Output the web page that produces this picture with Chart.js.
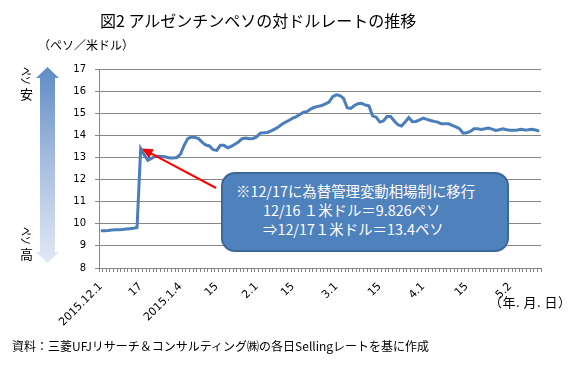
<!DOCTYPE html>
<html lang="ja">
<head>
<meta charset="utf-8">
<script src="https://cdn.jsdelivr.net/npm/chart.js@4"></script>
<style>
  html, body { margin: 0; padding: 0; background: #fff; }
  #wrap { position: relative; width: 571px; height: 369px; overflow: hidden;
          font-family: "Noto Sans CJK JP", sans-serif; color: #000; }
  #wrap canvas { position: absolute; left: 0; top: 0; }
  .txt { position: absolute; white-space: nowrap; line-height: 1; }
  .rot { position: absolute; white-space: nowrap; line-height: 1; font-size: 12px;
         transform-origin: 0 0; transform: rotate(90deg) scale(0.75, 1); }
  #note { position: absolute; left: 221px; top: 172px; width: 288px; height: 80px;
          box-sizing: border-box; background: #4f81bd; border: 2px solid #3a679c;
          border-radius: 14px; }
  .nl { position: absolute; white-space: nowrap; line-height: 1; color: #fff; font-size: 14.4px; }
</style>
</head>
<body>
<div id="wrap">
  <canvas id="rateChart" width="571" height="369"></canvas>
  <div class="txt" style="left:100px; top:12px; font-size:16px;">図2 アルゼンチンペソの対ドルレートの推移</div>
  <div class="txt" style="left:38px; top:39px; font-size:12px;">（ペソ／米ドル）</div>
  <div class="rot" style="left:32px; top:67px;">ペソ</div>
  <div class="txt" style="left:20px; top:87px; font-size:13px;">安</div>
  <div class="rot" style="left:32px; top:227px;">ペソ</div>
  <div class="txt" style="left:20px; top:247px; font-size:13px;">高</div>
  <div id="note"></div>
  <div class="nl" style="left:236px; top:184px;">※12/17に為替管理変動相場制に移行</div>
  <div class="nl" style="left:263px; top:203px;">12/16 １米ドル＝9.826ペソ</div>
  <div class="nl" style="left:263px; top:222px;">⇒12/17１米ドル＝13.4ペソ</div>
  <div class="txt" style="left:489px; top:295px; font-size:13px; letter-spacing:0.5px;">（年. 月. 日）</div>
  <div class="txt" style="left:12px; top:340px; font-size:12px;">資料：三菱UFJリサーチ＆コンサルティング㈱の各日Sellingレートを基に作成</div>
</div>

<script>
// ─── DATA ────────────────────────────────────────────────────────────────────
// 日次レート（ペソ／米ドル）, 2015.12.1 〜 5月中旬
const pesoPerDollar = [
    9.68, 9.69, 9.70, 9.72, 9.73, 9.73, 9.74, 9.76, 9.78, 9.80, 9.83,
    13.40, 13.10, 12.87, 12.95, 13.05, 13.05, 13.04, 13.02, 12.98, 12.98,
    13.00, 13.15, 13.55, 13.85, 13.92, 13.90, 13.85, 13.68, 13.56, 13.52,
    13.35, 13.32, 13.55, 13.55, 13.44, 13.50, 13.60, 13.70, 13.85, 13.88,
    13.85, 13.86, 13.93, 14.10, 14.12, 14.13, 14.20, 14.28, 14.38, 14.50,
    14.60, 14.68, 14.78, 14.85, 14.95, 15.05, 15.08, 15.20, 15.27, 15.31,
    15.35, 15.42, 15.50, 15.75, 15.83, 15.80, 15.67, 15.25, 15.22, 15.35,
    15.43, 15.45, 15.37, 15.34, 14.88, 14.82, 14.60, 14.65, 14.85, 14.85,
    14.65, 14.48, 14.42, 14.60, 14.80, 14.62, 14.63, 14.70, 14.78, 14.72,
    14.67, 14.63, 14.60, 14.52, 14.52, 14.52, 14.45, 14.38, 14.30, 14.10,
    14.12, 14.18, 14.30, 14.30, 14.27, 14.30, 14.33, 14.28, 14.22, 14.25,
    14.30, 14.25, 14.23, 14.23, 14.24, 14.27, 14.24, 14.25, 14.27, 14.24, 14.19
];

// 軸ラベル（表示する日付だけ）
const tickIndex = [0, 11, 22, 32, 43, 53, 65, 77, 89, 101, 113];
const tickText  = ['2015.12.1', '17', '2015.1.4', '15', '2.1', '15', '3.1', '15', '4.1', '15', '5.2'];

const jumpIndex = 11;   // 12/17 変動相場制移行

const categories = pesoPerDollar.map(() => '');
tickIndex.forEach((idx, k) => { categories[idx] = tickText[k]; });

// ─── DECORATION (矢印) ─────────────────────────────────────────────────────────
const decorPlugin = {
    id: 'decor',
    afterDraw(chart) {
        const ctx = chart.ctx;
        const xs = chart.scales.x, ys = chart.scales.y;

        // ペソ安／ペソ高 の両矢印
        ctx.save();
        const g = ctx.createLinearGradient(0, 67, 0, 263);
        g.addColorStop(0, '#5f8bc4');
        g.addColorStop(0.5, '#a9bfe0');
        g.addColorStop(1, '#e1e8f5');
        ctx.fillStyle = g;
        ctx.beginPath();
        ctx.moveTo(47.5, 67);
        ctx.lineTo(59, 78); ctx.lineTo(55, 78); ctx.lineTo(55, 252); ctx.lineTo(59, 252);
        ctx.lineTo(47.5, 263);
        ctx.lineTo(36, 252); ctx.lineTo(40, 252); ctx.lineTo(40, 78); ctx.lineTo(36, 78);
        ctx.closePath();
        ctx.fill();
        ctx.restore();

        // 赤い矢印 → 12/17 の点
        const tx = xs.getPixelForValue(jumpIndex) + 1;
        const ty = ys.getPixelForValue(pesoPerDollar[jumpIndex]);
        const fx = 216, fy = 188;
        const ang = Math.atan2(ty - fy, tx - fx);
        const head = 11, half = 5;
        ctx.save();
        ctx.strokeStyle = '#ff0000';
        ctx.fillStyle = '#ff0000';
        ctx.lineWidth = 2;
        ctx.beginPath();
        ctx.moveTo(fx, fy);
        ctx.lineTo(tx - Math.cos(ang) * head * 0.8, ty - Math.sin(ang) * head * 0.8);
        ctx.stroke();
        ctx.beginPath();
        ctx.moveTo(tx, ty);
        ctx.lineTo(tx - Math.cos(ang) * head + Math.sin(ang) * half, ty - Math.sin(ang) * head - Math.cos(ang) * half);
        ctx.lineTo(tx - Math.cos(ang) * head - Math.sin(ang) * half, ty - Math.sin(ang) * head + Math.cos(ang) * half);
        ctx.closePath();
        ctx.fill();
        ctx.restore();
    }
};

// ─── CHART ───────────────────────────────────────────────────────────────────
const yFont = { family: '"DejaVu Sans", sans-serif', size: 10 };
const xFont = { family: '"DejaVu Sans", sans-serif', size: 11 };
const axisGray = '#868686';

new Chart(document.getElementById('rateChart'), {
    type: 'line',
    data: {
        labels: categories,
        datasets: [{
            data: pesoPerDollar,
            borderColor: '#4a7ebb',
            borderWidth: 3,
            pointRadius: 0,
            tension: 0,
            fill: false
        }]
    },
    options: {
        responsive: false,
        animation: false,
        layout: { padding: { top: 69, right: 30, left: 0, bottom: 0 } },
        plugins: { legend: { display: false }, tooltip: { enabled: false } },
        scales: {
            x: {
                offset: true,
                grid: { offset: true, drawOnChartArea: false, drawTicks: true, tickLength: 4, color: axisGray },
                border: { color: axisGray },
                ticks: {
                    autoSkip: false, minRotation: 45, maxRotation: 45,
                    color: '#000', font: xFont, padding: 8
                },
                afterFit: s => { s.height = 101; }
            },
            y: {
                min: 8, max: 17,
                grid: { color: axisGray, tickLength: 4 },
                border: { color: axisGray },
                ticks: { stepSize: 1, color: '#000', font: yFont, padding: 9 },
                afterFit: s => { s.width = 99; }
            }
        }
    },
    plugins: [decorPlugin]
});
</script>
</body>
</html>
